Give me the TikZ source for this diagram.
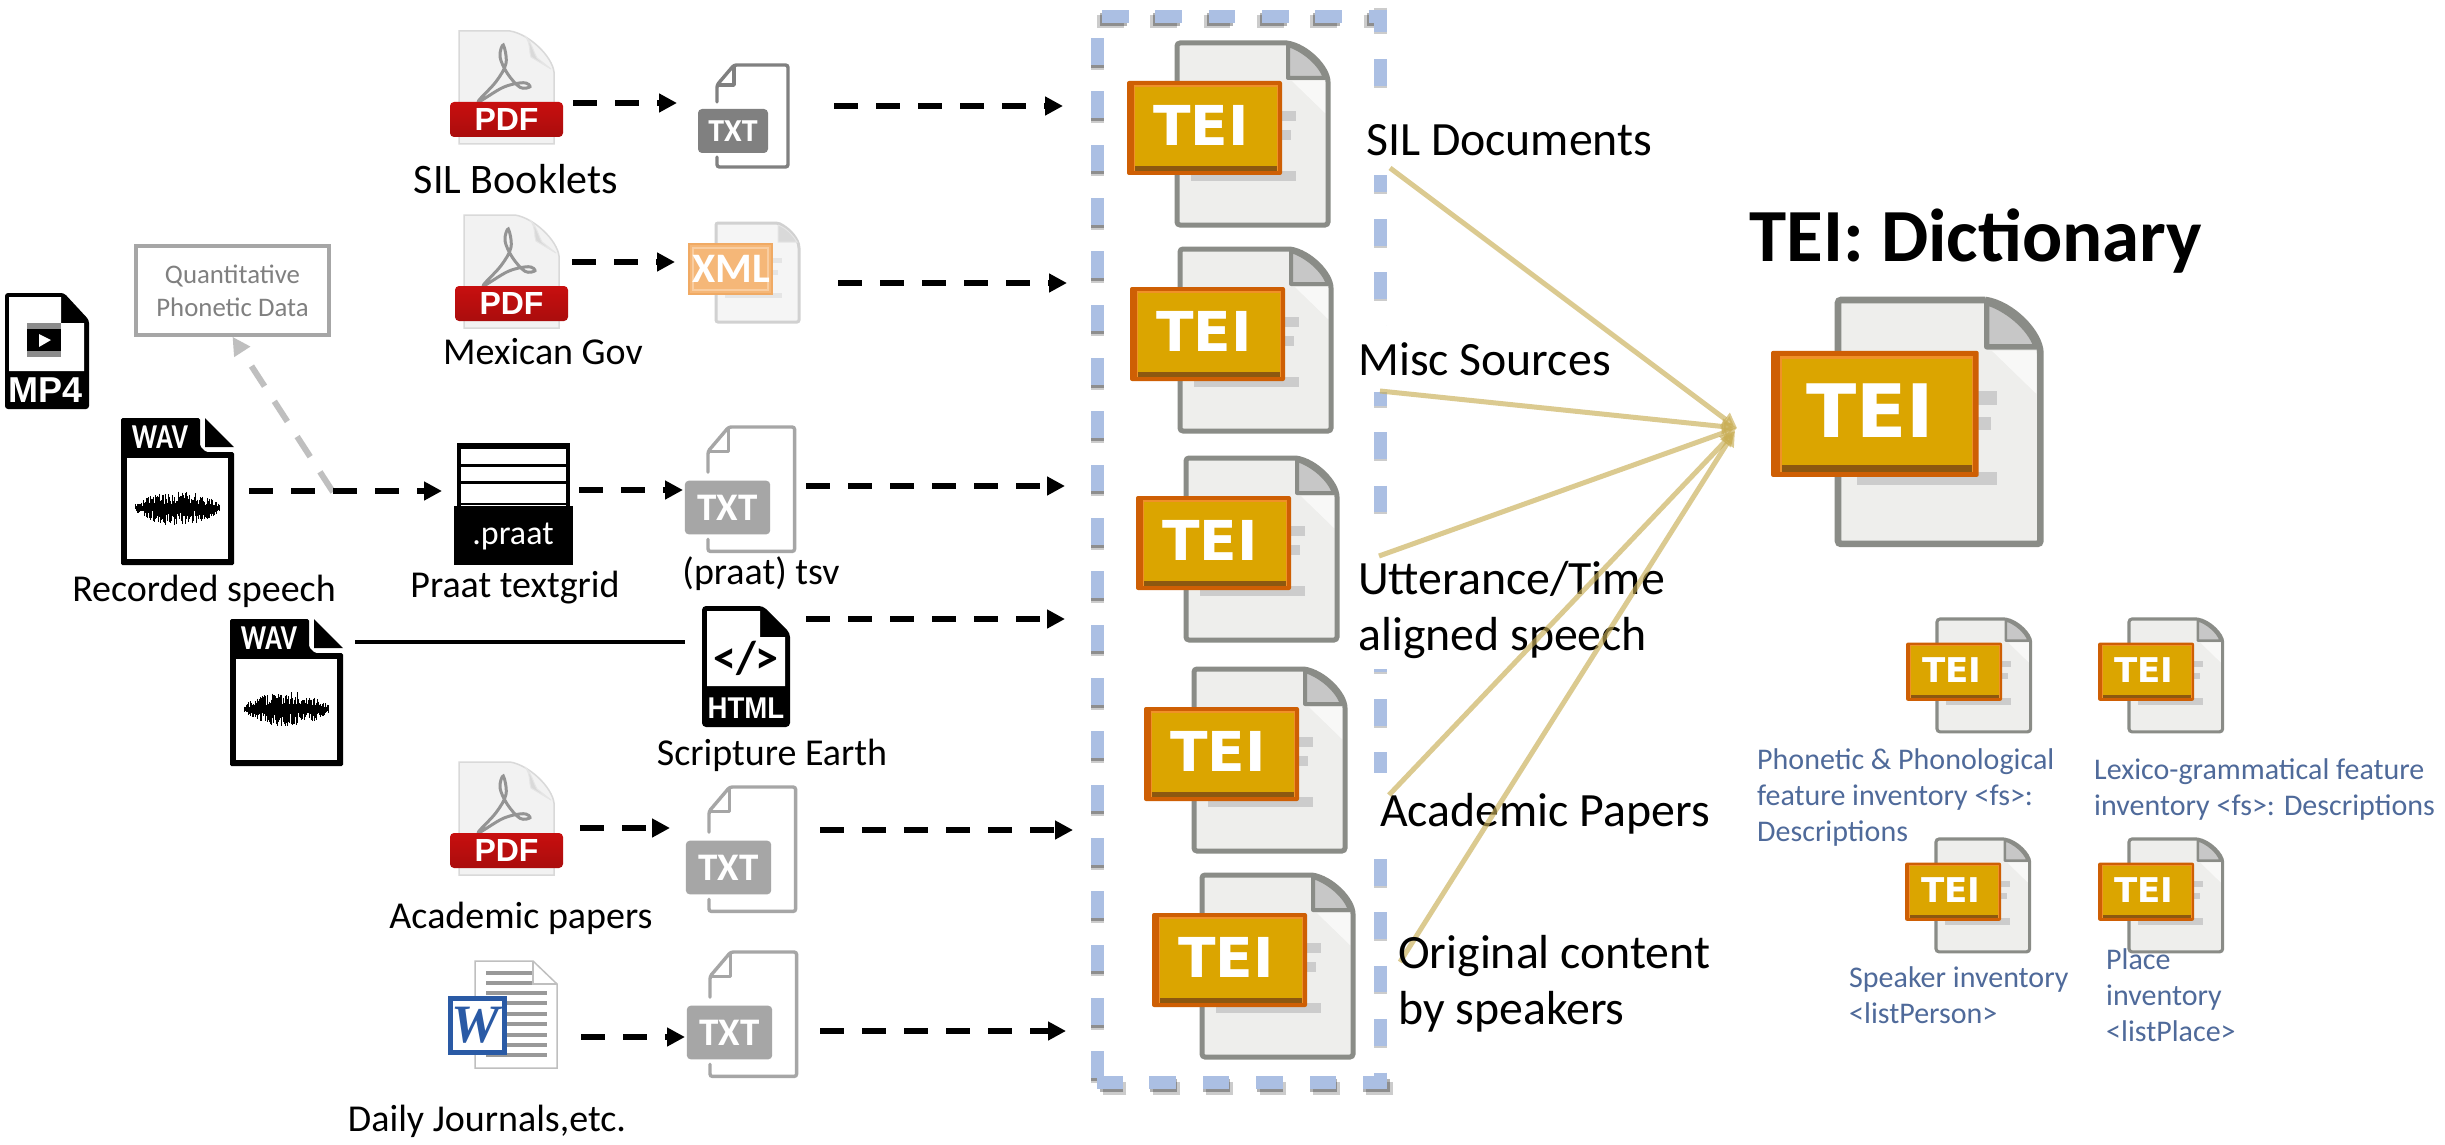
\documentclass[tikz,border=0pt]{standalone}
\usepackage{fontspec}
\setmainfont{Carlito}
\newfontfamily\teifont{DejaVu Sans}
\newfontfamily\pdffont{Liberation Sans}
\newfontfamily\wordfont{Liberation Serif}
\usetikzlibrary{arrows.meta}
\definecolor{dashblue}{HTML}{ABBFE3}
\definecolor{tan}{HTML}{C9AE55}
\definecolor{inkblue}{HTML}{4F6A9A}
\definecolor{pagefill}{HTML}{EEEEEC}
\definecolor{pageline}{HTML}{8A8C87}
\definecolor{fpdf}{HTML}{C80F0F}
\tikzset{
  flow/.style={line width=6pt,dash pattern=on 24pt off 18pt,-{Triangle[length=18pt,width=18pt]}},
  grayflow/.style={flow,draw=black!25,-{Triangle[length=18pt,width=18pt,fill=black!25]}},
  solidlink/.style={line width=4pt},
  tanlink/.style={draw=tan,opacity=.65,line width=5pt,-{Triangle[length=15pt,width=15pt]}},
  lab/.style={inner sep=0pt,font=\fontsize{38}{46}\selectfont},
  srclab/.style={inner sep=0pt,anchor=west,align=left,font=\fontsize{47.8}{56}\selectfont},
  bluelab/.style={inner sep=0pt,anchor=north west,align=left,text=inkblue,font=\fontsize{30}{36}\selectfont},
  dashside/.style={line width=13pt,draw=dashblue,dash pattern=on 26.67pt off 26.67pt},
  shadowside/.style={line width=13pt,draw=black,dash pattern=on 26.67pt off 26.67pt}
}
% TEI document icon: name, x, y of page top-left, scale
\newcommand\TEIdoc[4]{%
\begin{scope}[shift={(#2,#3)},scale=#4,transform shape]
  \filldraw[fill=pagefill,draw=pageline,line width=5pt*#4,rounded corners=3pt]
    (110,0) -- (0,0) -- (0,182) -- (151,182) -- (151,42) [sharp corners] .. controls (151,25) and (130,3) .. (110,0);
  \fill[white,opacity=.6] (115,38) -- (148,38) -- (148,70) -- cycle;
  \filldraw[fill=black!22,draw=pageline,line width=4pt*#4,line join=round]
    (111,2) -- (111,35) -- (148,35) .. controls (143,20) and (125,6) .. (111,2) -- cycle;
  \fill[black!20] (100,68) rectangle (119,78);
  \fill[black!20] (100,87) rectangle (114,97);
  \fill[black!20] (14,128) rectangle (119,138);
  \fill[fill={rgb,255:red,206;green,95;blue,4},rounded corners=2pt] (-50,38) rectangle (105,132);
  \fill[fill={rgb,255:red,240;green,145;blue,40}] (-43,42) rectangle (101,128);
  \fill[fill={rgb,255:red,140;green,88;blue,16}] (-42,46) rectangle (100,128);
  \fill[fill={rgb,255:red,219;green,165;blue,0}] (-42,44) rectangle (100,123);
  \node[inner sep=0pt,text=white,font=\teifont\bfseries\fontsize{55}{55}\selectfont] (#1) at (24,82.3) {TEI};
\end{scope}}
% PDF icon
\newcommand\PDFicon[3]{%
\begin{scope}[shift={(#2,#3)}]
  \filldraw[fill=black!5,draw=black!15,line width=1.5pt]
    (51,0) -- (0,0) -- (0,113) -- (95,113) -- (95,41) .. controls (93,25) and (70,3) .. (51,0);
  \filldraw[fill=black!15,draw=black!10,line width=1pt] (72,26) -- (92,38) -- (78,27) .. controls (74,20) and (72,10) .. (66,5) .. controls (72,12) and (70,22) .. cycle;
  \draw[line width=3pt,draw=black!42] plot[smooth cycle,tension=.6] coordinates {(19.3,70.7) (37,50.7) (47,32.3) (44.3,14) (41,25.7) (48.3,42.3) (61,56.3) (71,55.7) (64.3,51.7) (44.3,56.3)};
  \shade[top color=fpdf,bottom color=fpdf!85!black,rounded corners=4pt] (-9,71) rectangle (104,106);
  \node[inner sep=0pt,text=white,font=\pdffont\bfseries\fontsize{32}{32}\selectfont] (#1) at (47.5,88.5) {PDF};
\end{scope}}
% TXT icon
\newcommand\TXTicon[5]{%
\begin{scope}[shift={(#2,#3)},scale=#4]
  \draw[draw=#5,line width=3.4pt,rounded corners=2.5pt,line cap=round]
    (0,37) -- (0,20) -- (17,0) -- (71,0) -- (71,102) -- (0,102) -- (0,92);
  \draw[draw=#5,line width=3.4pt,line join=round] (17,1) -- (17,20) -- (0,20);
  \fill[fill=#5,rounded corners=4pt] (-19,44) rectangle (51,88);
  \node[inner sep=0pt,text=white,transform shape,font=\bfseries\fontsize{32}{32}\selectfont] (#1) at (16,66) {TXT};
\end{scope}}
% WAV icon with a sound wave
\newcommand\WAVicon[3]{%
\begin{scope}[shift={(#2,#3)}]
  \fill[black,rounded corners=1.5pt] (0,0) -- (79,0) -- (79,28) -- (85,34) -- (113,34) -- (113,147) -- (0,147) -- cycle;
  \fill[white] (6,40) rectangle (107,141);
  \fill[black] (84,0) -- (113,29) -- (84,29) -- cycle;
  \node[inner sep=0pt,text=white,xscale=.8,font=\bfseries\fontsize{35}{35}\selectfont] (#1) at (39,19.5) {WAV};
  \foreach \k in {-42,-41.3,...,42}{
    \pgfmathsetmacro\hh{(3+15*(1-(\k/44)^2))*(0.2+0.8*rnd)}
    \pgfmathsetmacro\hb{(3+15*(1-(\k/44)^2))*(0.2+0.8*rnd)}
    \draw[line width=.7pt,black] (56.5+\k,90-\hh) -- (56.5+\k,90+\hb);
  }
  \draw[line width=5pt,black] (16,90) -- (97,90);
\end{scope}}
\begin{document}
\begin{tikzpicture}[x=1pt,y=-1pt]
\pgfmathsetseed{7}
\useasboundingbox[fill=white] (0,0) rectangle (2445,1145);

% ---- dashed blue container
\foreach \dx/\dy/\op in {-5/5/.2,-2/3/.3}{
  \draw[shadowside,opacity=\op,shift={(\dx,\dy)}] (1102,17) -- (1380,17);
  \draw[shadowside,opacity=\op,shift={(0,\dy)}] (1097,1078) -- (1097,38);
}
\foreach \dx/\dy/\op in {6/6/.2,3/3/.3}{
  \draw[shadowside,opacity=\op,shift={(\dx,\dy)}] (1387,1082) -- (1097,1082);
}
\draw[shadowside,opacity=.2,shift={(0,2)}] (1380,5.67) -- (1380,1082);
\draw[dashside] (1102,17) -- (1380,17) -- (1380,1082) -- (1097,1082);
\draw[dashside] (1097,1078) -- (1097,38);

% ---- white boxes of the source labels, which hide the dashes
\fill[white] (1366,105) rectangle (1400,175);
\fill[white] (1358,326) rectangle (1400,392);
\fill[white] (1358,536) rectangle (1400,669);
\fill[white] (1371,773) rectangle (1400,849);

% ---- TEI documents in the container
\TEIdoc{teiA}{1177}{43}{1}
\TEIdoc{teiB}{1180}{249}{1}
\TEIdoc{teiC}{1186}{458}{1}
\TEIdoc{teiD}{1194}{669}{1}
\TEIdoc{teiE}{1202}{875}{1}

% ---- result documents
\TEIdoc{teiMain}{1838}{300}{1.34}
\TEIdoc{teiF}{1937}{619}{.62}
\TEIdoc{teiG}{2129}{619}{.62}
\TEIdoc{teiH}{1936}{839}{.62}
\TEIdoc{teiI}{2129}{839}{.62}

% ---- source icons
\PDFicon{pdfA}{459}{31}
\PDFicon{pdfB}{464}{215}
\PDFicon{pdfC}{459}{762}

\TXTicon{txtA}{717}{65}{1}{black!50}
\TXTicon{txtB}{708}{427}{1.22}{black!35}
\TXTicon{txtC}{709}{787}{1.22}{black!35}
\TXTicon{txtD}{710}{952}{1.22}{black!35}

% XML icon
\filldraw[fill=black!4,draw=black!18,line width=3pt,rounded corners=2pt]
  (716,223) -- (778,223) .. controls (788,228) and (796,236) .. (799,246) -- (799,322) -- (716,322) -- cycle;
\filldraw[fill=black!15,draw=black!10,line width=1pt] (778,225) -- (778,242) -- (797,242) .. controls (792,234) and (786,228) .. (778,225);
\fill[black!10] (773,258) rectangle (782,263);
\fill[black!10] (773,270) rectangle (778,275);
\fill[black!10] (725,293) rectangle (782,298);
\filldraw[fill={rgb,255:red,245;green,183;blue,120},draw={rgb,255:red,240;green,170;blue,100},line width=2pt] (689,244) rectangle (772,294);
\draw[draw={rgb,255:red,249;green,205;blue,160},line width=1.5pt] (693,248) rectangle (768,290);
\node[inner sep=0pt,text=white,font=\bfseries\fontsize{42}{42}\selectfont] (xml) at (731,269) {XML};

% MP4 icon
\fill[black,rounded corners=3pt] (5,293) -- (64,293) -- (89,320) -- (89,409) -- (5,409) -- cycle;
\fill[white] (9,297) -- (61,297) -- (61,323) -- (84,323) -- (84,371) -- (9,371) -- cycle;
\fill[black] (27,323) rectangle (61,357);
\fill[black!45] (27,323) rectangle (61,329);
\fill[black!45] (27,351) rectangle (61,357);
\fill[white] (39,334) -- (51,340) -- (39,347) -- cycle;
\node[inner sep=0pt,text=white,font=\pdffont\bfseries\fontsize{36}{36}\selectfont] (mp4) at (46,390) {MP4};

% WAV icons
\WAVicon{wavA}{121}{418}
\WAVicon{wavB}{230}{619}

% Praat icon
\draw[line width=3.5pt] (459,507) -- (459,445) -- (568,445) -- (568,507);
\draw[line width=5pt] (457,446) -- (570,446);
\draw[line width=3pt] (459,465) -- (568,465);
\draw[line width=3pt] (459,482) -- (568,482);
\draw[line width=2pt] (459,504) -- (568,504);
\fill[black] (454,506) rectangle (573,565);
\node[inner sep=0pt,text=white,font=\fontsize{34}{34}\selectfont] (praat) at (513,536) {.praat};

% HTML icon
\fill[black,rounded corners=4pt] (702,606) -- (763,606) -- (790,633) -- (790,727) -- (702,727) -- cycle;
\fill[white] (707,611) -- (760,611) -- (760,637) -- (785,637) -- (785,686) -- (707,686) -- cycle;
\node[inner sep=0pt,font=\bfseries\fontsize{46}{46}\selectfont] (htmlcode) at (746,658) {</>};
\node[inner sep=0pt,text=white,xscale=.92,font=\pdffont\bfseries\fontsize{30}{30}\selectfont] (html) at (746,708) {HTML};

% Word icon
\filldraw[fill=white,draw=black!25,line width=1.5pt] (475,961) -- (533,961) -- (557,984) -- (557,1068) -- (475,1068) -- cycle;
\draw[draw=black!25,line width=1.5pt] (533,961) -- (533,984) -- (557,984);
\foreach \yy in {973,983}{\fill[black!40] (486,\yy-1.7) rectangle (532,\yy+1.7);}
\foreach \yy in {993,1003,1014,1024,1035,1045,1055}{\fill[black!40] (486,\yy-1.7) rectangle (547,\yy+1.7);}
\filldraw[fill=white,draw={rgb,255:red,42;green,90;blue,165},line width=5pt] (450,998) rectangle (504,1052);
\node[inner sep=0pt,text={rgb,255:red,42;green,90;blue,165},font=\wordfont\bfseries\itshape\fontsize{54}{54}\selectfont] (word) at (476,1025) {W};

% ---- quantitative box
\node[draw=black!35,line width=3.5pt,minimum width=193pt,minimum height=89pt,inner sep=0pt,align=center,text=black!50,font=\fontsize{26.8}{33}\selectfont] (quant) at (232.5,290.5) {Quantitative\\Phonetic Data};

% ---- labels on the left
\node[lab,font=\fontsize{42}{46}\selectfont] (lA) at (516,179) {SIL Booklets};
\node[lab] (lB) at (543,352) {Mexican Gov};
\node[lab] (lC) at (204,591) {Recorded speech};
\node[lab] (lD) at (515,588) {Praat textgrid};
\node[lab] (lE) at (761,574) {(praat) tsv};
\node[lab] (lF) at (772,755) {Scripture Earth};
\node[lab] (lG) at (521,918) {Academic papers};
\node[lab] (lH) at (487,1121) {Daily Journals,etc.};

% ---- named connector ends
\coordinate (a1s) at (573,103);  \coordinate (a1e) at (677,103);
\coordinate (a2s) at (834,106);  \coordinate (a2e) at (1063,106);
\coordinate (a3s) at (572,262);  \coordinate (a3e) at (675,262);
\coordinate (a4s) at (838,283);  \coordinate (a4e) at (1067,283);
\coordinate (a5s) at (249,491);  \coordinate (a5e) at (442,491);
\coordinate (a6s) at (579,490);  \coordinate (a6e) at (683,490);
\coordinate (a7s) at (806,486);  \coordinate (a7e) at (1065,486);
\coordinate (a8s) at (806,619);  \coordinate (a8e) at (1065,619);
\coordinate (a9s) at (580,828);  \coordinate (a9e) at (670,828);
\coordinate (a10s) at (820,830); \coordinate (a10e) at (1073,830);
\coordinate (a11s) at (581,1037);\coordinate (a11e) at (685,1037);
\coordinate (a12s) at (820,1031);\coordinate (a12e) at (1066,1031);
\coordinate (gs) at (333,492);
\coordinate (ls) at (355,642);   \coordinate (le) at (685,642);

\draw[grayflow] (gs) -- (quant.south);
\foreach \n in {1,...,12}{\draw[flow] (a\n s) -- (a\n e);}
\draw[solidlink] (ls) -- (le);

% ---- labels of the TEI sources
\node[srclab] (sA) at (1366,140) {SIL Documents};
\node[srclab] (sB) at (1358,359) {Misc Sources};
\node[srclab] (sC) at (1358,610) {Utterance/Time\\aligned speech};
\node[srclab] (sD) at (1380,814) {Academic Papers};

% ---- tan connectors
\coordinate (hub) at (1737,428);
\coordinate (t1) at (1390,168);
\coordinate (t2) at (1380,391);
\coordinate (t3) at (1379,556);
\coordinate (t4) at (1389,795);
\coordinate (t5) at (1400,962);
\coordinate (hubb) at (1735,431);
\draw[tanlink] (t1) -- (hub);
\draw[tanlink] (t2) -- (hub);
\draw[tanlink] (t3) -- (hub);
\draw[tanlink] (t4) -- (hubb);
\draw[tanlink] (t5) -- (hubb);

\node[srclab] (sE) at (1398,984) {Original content\\by speakers};

% ---- right-hand text
\node[inner sep=0pt,font=\bfseries\fontsize{75}{75}\selectfont] (title) at (1976,241) {TEI: Dictionary};
\node[bluelab] (bA) at (1757,748) {Phonetic \& Phonological\\feature inventory <fs>:\\Descriptions};
\node[bluelab] (bB) at (2094,758) {Lexico-grammatical feature\\inventory <fs>: Descriptions};
\node[bluelab] (bC) at (1849,966) {Speaker inventory\\<listPerson>};
\node[bluelab] (bD) at (2106,948) {Place\\inventory\\<listPlace>};
\end{tikzpicture}
\end{document}
